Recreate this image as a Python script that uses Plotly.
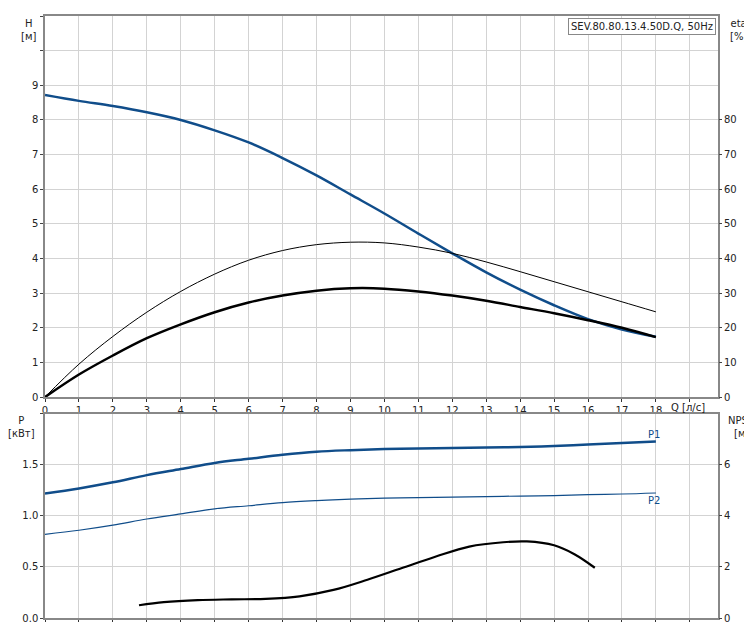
import plotly.graph_objects as go

q = list(range(19))
head = [8.72,8.55,8.4,8.22,8.0,7.7,7.35,6.9,6.4,5.85,5.3,4.72,4.15,3.6,3.1,2.65,2.25,1.95,1.74]
eta_thin = [0,9.5,17.5,24.5,30.5,35.5,39.5,42.3,44,44.7,44.5,43.3,41.5,39,36.2,33.3,30.4,27.5,24.6]
eta_thick = [0,6.5,12,17,21,24.5,27.3,29.3,30.7,31.4,31.3,30.5,29.3,27.8,26,24.2,22.2,20,17.3]
p1 = [1.22,1.27,1.33,1.40,1.46,1.52,1.56,1.60,1.63,1.645,1.655,1.66,1.665,1.67,1.675,1.685,1.70,1.715,1.73]
p2 = [0.82,0.86,0.91,0.97,1.02,1.07,1.10,1.13,1.15,1.165,1.175,1.18,1.185,1.19,1.195,1.20,1.21,1.215,1.225]
npsh_q = [2.77,3.5,4.5,5.5,6.5,7.5,8.5,9.5,10.5,11.5,12.5,13.5,14.2,15,15.6,16.2]
npsh = [0.5,0.62,0.7,0.73,0.75,0.85,1.1,1.5,1.95,2.4,2.8,2.97,3.0,2.85,2.5,1.97]

blue = "#104d8a"
fig = go.Figure()
def add(x, y, xa, ya, color, w):
    fig.add_trace(go.Scatter(x=x, y=y, xaxis=xa, yaxis=ya, mode="lines",
                             line=dict(color=color, width=w, shape="spline")))
add(q, eta_thin, "x", "y2", "black", 1)
add(q, eta_thick, "x", "y2", "black", 2.5)
add(q, head, "x", "y", blue, 2.5)
add(q, p1, "x2", "y3", blue, 2.5)
add(q, p2, "x2", "y3", blue, 1.2)
add(npsh_q, npsh, "x2", "y4", "black", 2.2)

grid = "#d3d3d3"
ax = dict(range=[0, 19.83], tickvals=list(range(20)), showgrid=True, gridcolor=grid,
          zeroline=False, showline=True, linecolor="#888", linewidth=1.5, mirror=True,
          ticks="outside", ticklen=3, tickcolor="#333", automargin=False)
fig.update_layout(
    width=752, height=622, showlegend=False,
    margin=dict(l=37, r=42, t=8, b=12),
    plot_bgcolor="white", paper_bgcolor="white",
    font=dict(family="DejaVu Sans", size=10, color="#222"),
    xaxis=dict(ax, domain=[0, 1], anchor="y", ticktext=[str(i) for i in range(19)] + [""]),
    xaxis2=dict(ax, domain=[0, 1], anchor="y3", showticklabels=False),
    yaxis=dict(domain=[0.367, 1], range=[0, 11], tickvals=list(range(12)),
               ticktext=[str(i) for i in range(10)] + ["", ""], showgrid=True, gridcolor=grid,
               zeroline=False, showline=True, linecolor="#888", linewidth=1.5, mirror=True,
               ticks="outside", ticklen=3, automargin=False),
    yaxis2=dict(overlaying="y", side="right", range=[0, 110], tickvals=list(range(0, 90, 10)),
                showgrid=False, zeroline=False, ticks="outside", ticklen=3, anchor="x",
                automargin=False),
    yaxis3=dict(domain=[0, 0.339], range=[0, 2], tickvals=[0, 0.5, 1, 1.5, 2],
                ticktext=["0.0", "0.5", "1.0", "1.5", ""], showgrid=True, gridcolor=grid,
                zeroline=False, showline=True, linecolor="#888", linewidth=1.5, mirror=True,
                ticks="outside", ticklen=3, anchor="x2", automargin=False),
    yaxis4=dict(overlaying="y3", side="right", range=[0, 8], tickvals=[0, 2, 4, 6],
                showgrid=False, zeroline=False, ticks="outside", ticklen=3, anchor="x2",
                automargin=False),
)
ann = [
    dict(x=-0.025, y=1.0, text="H<br>[м]", xanchor="center", yanchor="top"),
    dict(x=1.03, y=1.0, text="eta<br>[%]", xanchor="center", yanchor="top"),
    dict(x=-0.035, y=0.34, text="P<br>[кВт]", xanchor="center", yanchor="top"),
    dict(x=1.035, y=0.34, text="NPSH<br>[м]", xanchor="center", yanchor="top"),
    dict(x=0.955, y=0.367, text="Q [л/с]", xanchor="center", yanchor="top", yshift=-3),
    dict(x=0.997, y=0.997, text="SEV.80.80.13.4.50D.Q, 50Hz", xanchor="right", yanchor="top",
         bordercolor="#888", borderwidth=1, bgcolor="white", borderpad=2),
    dict(x=0.905, y=0.305, text="P1", xanchor="center", yanchor="middle", font=dict(color=blue)),
    dict(x=0.905, y=0.195, text="P2", xanchor="center", yanchor="middle", font=dict(color=blue)),
]
for a in ann:
    a.update(xref="paper", yref="paper", showarrow=False)
fig.update_layout(annotations=ann)
fig.write_html("out.html")
